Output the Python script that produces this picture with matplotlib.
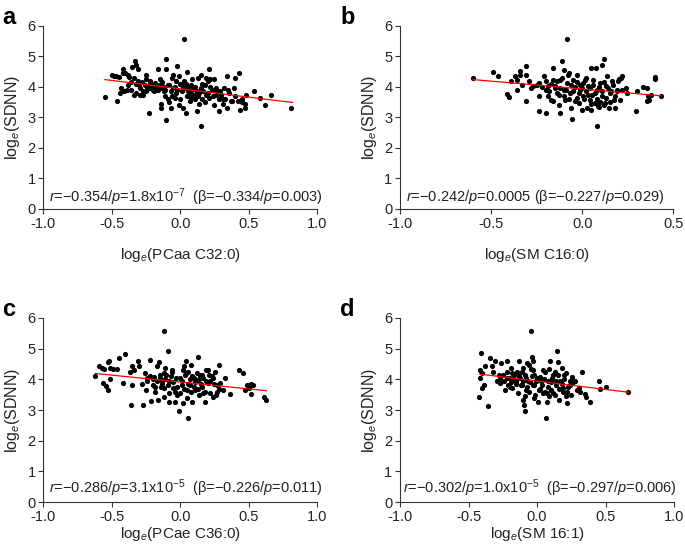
import matplotlib
matplotlib.use("Agg")
import matplotlib.pyplot as plt

plt.rcParams["font.family"] = ["Liberation Sans", "DejaVu Sans"]
plt.rcParams["mathtext.fontset"] = "custom"
plt.rcParams["mathtext.rm"] = "Liberation Sans"
plt.rcParams["mathtext.it"] = "Liberation Sans:italic"
plt.rcParams["axes.unicode_minus"] = False

# panel a: loge(PCaa C32:0) vs loge(SDNN)
a_pts = [
    (-0.55, 3.67), (-0.46, 3.53), (-0.50, 4.38), (-0.48, 4.37), (-0.42, 4.58), (-0.42, 4.45),
    (-0.40, 4.45), (-0.38, 4.38), (-0.37, 4.32), (-0.44, 3.80), (-0.41, 3.88), (-0.39, 3.90),
    (-0.35, 4.65), (-0.33, 4.85), (-0.32, 4.72), (-0.31, 4.58), (-0.34, 4.30), (-0.31, 4.20),
    (-0.32, 4.10), (-0.30, 4.05), (-0.36, 3.90), (-0.34, 3.75), (-0.32, 3.80), (-0.29, 3.75),
    (-0.27, 3.72), (-0.25, 4.40), (-0.25, 4.25), (-0.25, 3.85), (-0.23, 3.15), (-0.22, 4.10),
    (-0.21, 3.95), (-0.20, 4.05), (-0.19, 3.85), (-0.18, 4.12), (-0.17, 3.95), (-0.16, 4.60),
    (-0.15, 4.25), (-0.15, 4.00), (-0.14, 3.45), (-0.14, 3.30), (-0.13, 4.15), (-0.12, 4.00),
    (-0.12, 3.85), (-0.11, 3.70), (-0.10, 4.90), (-0.10, 4.60), (-0.10, 2.93), (-0.09, 3.60),
    (-0.08, 4.05), (-0.08, 3.50), (-0.07, 3.30), (-0.06, 4.30), (-0.05, 4.40), (-0.05, 3.95),
    (-0.04, 3.65), (-0.03, 4.20), (-0.03, 3.80), (-0.02, 4.70), (-0.01, 4.35), (-0.01, 3.40),
    (0.00, 3.60), (0.01, 4.05), (0.01, 3.85), (0.02, 3.30), (0.03, 5.57), (0.03, 4.20),
    (0.03, 3.95), (0.04, 4.10), (0.04, 3.15), (0.05, 3.70), (0.05, 4.50), (0.06, 4.00),
    (0.07, 3.80), (0.07, 3.55), (0.08, 4.05), (0.09, 3.90), (0.09, 4.25), (0.10, 3.75),
    (0.11, 3.60), (0.11, 4.00), (0.12, 3.85), (0.12, 3.20), (0.13, 4.30), (0.13, 3.70),
    (0.14, 3.45), (0.15, 2.73), (0.15, 4.40), (0.15, 3.95), (0.16, 3.60), (0.17, 3.85),
    (0.18, 4.05), (0.18, 3.50), (0.19, 4.30), (0.20, 3.80), (0.20, 4.20), (0.21, 4.58),
    (0.21, 3.65), (0.22, 4.00), (0.23, 3.90), (0.24, 3.70), (0.25, 4.25), (0.25, 3.40),
    (0.26, 3.95), (0.27, 3.85), (0.28, 3.20), (0.28, 3.60), (0.30, 3.75), (0.31, 3.45),
    (0.32, 3.95), (0.33, 3.60), (0.34, 4.35), (0.34, 3.30), (0.36, 3.80), (0.38, 3.55),
    (0.39, 3.95), (0.40, 3.70), (0.40, 4.30), (0.42, 3.55), (0.43, 4.45), (0.44, 3.25),
    (0.45, 3.50), (0.47, 3.30), (0.48, 3.75), (0.54, 3.85), (0.58, 3.65), (0.62, 3.42),
    (0.66, 3.72), (0.81, 3.30), (-0.28, 4.15), (-0.26, 4.05), (-0.24, 4.00), (-0.23, 3.95),
    (-0.22, 4.20), (-0.20, 3.90), (-0.18, 4.00), (-0.17, 4.05), (-0.16, 3.90), (-0.14, 4.10),
    (-0.13, 3.95), (-0.11, 3.90), (-0.09, 4.05), (-0.07, 3.85), (-0.06, 3.70), (-0.04, 4.00),
    (-0.02, 3.90), (0.00, 4.10), (0.02, 4.00), (0.06, 3.85), (0.08, 3.65), (0.10, 3.95),
    (0.14, 3.80), (0.16, 4.10), (0.19, 3.75), (0.22, 4.25), (0.24, 3.90), (0.26, 3.75),
    (0.29, 3.85), (0.31, 3.60), (-0.45, 4.32), (-0.47, 4.35), (-0.43, 3.95), (-0.38, 4.05),
    (-0.36, 4.15), (-0.29, 3.95), (-0.27, 3.85), (0.35, 3.90), (0.37, 3.55), (0.47, 3.45),
    (0.45, 3.60),
]

# panel b: loge(SM C16:0)
b_pts = [
    (-0.60, 4.28), (-0.49, 4.48), (-0.46, 4.35), (-0.415, 3.78), (-0.39, 4.18), (-0.37, 4.35),
    (-0.36, 4.24), (-0.36, 3.91), (-0.34, 4.51), (-0.34, 4.40), (-0.40, 3.67), (-0.31, 4.70),
    (-0.31, 4.40), (-0.31, 3.53), (-0.33, 4.07), (-0.29, 4.18), (-0.27, 4.02), (-0.24, 4.13),
    (-0.24, 3.20), (-0.24, 3.69), (-0.21, 4.35), (-0.20, 3.14), (-0.20, 3.91), (-0.19, 4.02),
    (-0.17, 3.58), (-0.16, 4.62), (-0.16, 4.24), (-0.15, 4.02), (-0.14, 3.80), (-0.13, 3.42),
    (-0.12, 3.14), (-0.12, 4.24), (-0.11, 4.84), (-0.10, 3.91), (-0.10, 4.57), (-0.095, 3.58),
    (-0.086, 5.57), (-0.086, 4.13), (-0.075, 4.46), (-0.068, 3.80), (-0.057, 2.95), (-0.049, 4.24),
    (-0.04, 4.00), (-0.03, 3.64), (-0.027, 4.40), (-0.016, 3.47), (-0.013, 3.91), (-0.004, 3.25),
    (0.002, 4.13), (0.005, 3.69), (0.015, 4.24), (0.02, 3.86), (0.024, 3.31), (0.033, 4.02),
    (0.042, 3.58), (0.046, 4.62), (0.051, 3.75), (0.06, 4.24), (0.07, 3.47), (0.075, 4.62),
    (0.08, 2.73), (0.082, 3.91), (0.088, 3.36), (0.097, 4.13), (0.106, 4.73), (0.11, 3.69),
    (0.12, 4.90), (0.124, 3.47), (0.13, 4.02), (0.137, 4.35), (0.148, 3.31), (0.155, 3.80),
    (0.166, 4.18), (0.173, 3.58), (0.18, 3.31), (0.19, 3.91), (0.197, 4.18), (0.206, 3.58),
    (0.216, 4.35), (0.24, 3.96), (0.247, 3.80), (0.294, 3.20), (0.30, 3.86), (0.335, 4.00),
    (0.353, 3.96), (0.362, 3.69), (0.357, 3.53), (0.367, 3.58), (0.398, 4.26), (0.402, 4.32),
    (0.43, 3.69), (0.377, 3.75), (-0.18, 3.85), (-0.17, 4.10), (-0.15, 3.95), (-0.14, 4.20),
    (-0.13, 3.75), (-0.12, 3.95), (-0.11, 4.30), (-0.10, 3.70), (-0.09, 3.90), (-0.08, 4.40),
    (-0.07, 3.60), (-0.06, 4.05), (-0.05, 3.85), (-0.04, 3.55), (-0.03, 4.15), (-0.02, 3.80),
    (-0.01, 4.05), (0.00, 3.95), (0.01, 3.60), (0.02, 4.30), (0.03, 3.75), (0.04, 3.95),
    (0.05, 3.45), (0.06, 4.05), (0.07, 3.80), (0.08, 3.60), (0.09, 4.00), (0.10, 3.50),
    (0.11, 3.85), (0.12, 4.15), (0.13, 3.65), (0.14, 3.95), (0.15, 3.50), (0.16, 3.85),
    (0.17, 4.05), (0.18, 3.70), (0.19, 3.85), (0.20, 4.25), (0.21, 4.30), (0.22, 3.90),
    (-0.25, 4.05), (-0.28, 3.95), (-0.22, 4.00), (-0.20, 4.20), (-0.19, 3.70), (-0.16, 3.55),
    (-0.06, 3.30), (0.05, 3.25), (0.09, 3.35), (0.12, 3.40),
]

# panel c: loge(PCae C36:0)
c_pts = [
    (-0.62, 4.11), (-0.59, 4.42), (-0.57, 4.36), (-0.555, 4.32), (-0.56, 3.87), (-0.54, 3.78),
    (-0.53, 3.65), (-0.53, 4.58), (-0.52, 4.60), (-0.51, 4.36), (-0.51, 4.01), (-0.49, 4.34),
    (-0.46, 4.34), (-0.45, 4.71), (-0.42, 3.89), (-0.40, 4.84), (-0.365, 4.25), (-0.36, 3.16),
    (-0.35, 4.44), (-0.35, 3.82), (-0.34, 4.31), (-0.31, 4.60), (-0.30, 4.42), (-0.27, 3.16),
    (-0.26, 4.22), (-0.25, 3.65), (-0.24, 4.03), (-0.22, 4.12), (-0.22, 4.63), (-0.21, 3.29),
    (-0.195, 3.82), (-0.19, 4.09), (-0.18, 3.60), (-0.17, 4.42), (-0.16, 3.33), (-0.155, 4.56),
    (-0.15, 4.14), (-0.135, 3.93), (-0.12, 5.56), (-0.12, 3.44), (-0.12, 3.71), (-0.11, 4.36),
    (-0.10, 4.14), (-0.09, 4.91), (-0.085, 3.27), (-0.08, 3.93), (-0.06, 4.25), (-0.05, 3.71),
    (-0.04, 3.27), (-0.025, 3.49), (-0.01, 2.97), (0.00, 4.03), (0.012, 3.82), (0.02, 3.22),
    (0.025, 4.42), (0.035, 4.14), (0.04, 4.60), (0.05, 3.65), (0.055, 2.75), (0.06, 4.25),
    (0.07, 3.82), (0.08, 4.47), (0.09, 3.27), (0.10, 4.03), (0.11, 3.65), (0.12, 3.93),
    (0.13, 4.74), (0.14, 3.49), (0.146, 4.14), (0.16, 3.76), (0.17, 4.03), (0.18, 3.25),
    (0.19, 4.31), (0.20, 3.87), (0.21, 4.14), (0.22, 3.54), (0.24, 3.44), (0.255, 4.25),
    (0.27, 3.60), (0.27, 3.80), (0.287, 4.47), (0.29, 3.87), (0.31, 3.65), (0.33, 4.03),
    (0.365, 3.51), (0.43, 4.29), (0.46, 4.22), (0.475, 3.65), (0.487, 3.82), (0.505, 3.76),
    (0.515, 3.84), (0.52, 3.52), (0.535, 3.80), (0.61, 3.44), (0.63, 3.33), (0.50, 3.71),
    (-0.20, 4.00), (-0.17, 3.95), (-0.15, 4.05), (-0.13, 3.85), (-0.11, 4.00), (-0.09, 3.80),
    (-0.07, 4.10), (-0.05, 3.90), (-0.03, 4.05), (-0.02, 3.75), (0.01, 3.95), (0.03, 3.70),
    (0.04, 4.20), (0.06, 3.85), (0.08, 3.60), (0.09, 4.10), (0.11, 3.90), (0.12, 4.20),
    (0.13, 3.70), (0.15, 3.85), (0.16, 4.15), (0.18, 3.60), (0.20, 4.30), (0.22, 3.95),
    (0.23, 4.10), (0.25, 3.85), (0.26, 3.50), (0.28, 3.70), (-0.12, 4.20), (-0.14, 3.75),
    (-0.08, 3.55), (-0.06, 4.30), (0.00, 3.55), (0.02, 4.30), (0.05, 3.40), (0.07, 4.00),
    (0.10, 3.75), (0.14, 4.00), (0.17, 3.55), (0.19, 3.95), (-0.28, 3.85), (-0.24, 3.95),
    (-0.18, 3.75), (-0.04, 3.60), (0.24, 4.05),
]

# panel d: loge(SM 16:1)
d_pts = [
    (-0.42, 3.44), (-0.415, 4.03), (-0.415, 4.31), (-0.41, 4.85), (-0.405, 4.20), (-0.40, 3.71),
    (-0.39, 3.82), (-0.38, 4.42), (-0.36, 3.14), (-0.34, 4.71), (-0.33, 4.42), (-0.32, 4.25),
    (-0.31, 4.60), (-0.295, 3.93), (-0.28, 4.14), (-0.27, 3.87), (-0.26, 4.53), (-0.25, 4.14),
    (-0.235, 3.65), (-0.22, 4.60), (-0.22, 4.25), (-0.21, 3.82), (-0.20, 4.03), (-0.19, 4.36),
    (-0.18, 3.71), (-0.17, 4.14), (-0.155, 3.93), (-0.145, 4.25), (-0.14, 3.54), (-0.13, 4.60),
    (-0.125, 4.03), (-0.11, 3.82), (-0.105, 4.36), (-0.10, 3.33), (-0.095, 3.16), (-0.09, 2.97),
    (-0.09, 4.14), (-0.08, 3.65), (-0.07, 4.53), (-0.065, 3.93), (-0.057, 3.60), (-0.047, 4.33),
    (-0.043, 5.56), (-0.04, 4.74), (-0.033, 3.82), (-0.028, 4.60), (-0.02, 4.14), (-0.016, 3.49),
    (-0.004, 3.93), (0.01, 3.27), (0.016, 3.65), (0.02, 4.09), (0.033, 3.82), (0.045, 3.54),
    (0.057, 4.25), (0.065, 2.75), (0.07, 3.27), (0.08, 3.93), (0.09, 4.33), (0.094, 4.60),
    (0.105, 3.65), (0.118, 4.14), (0.13, 3.49), (0.137, 3.82), (0.147, 4.91), (0.155, 4.14),
    (0.155, 4.58), (0.16, 3.33), (0.17, 3.93), (0.18, 4.36), (0.186, 3.71), (0.195, 4.14),
    (0.21, 3.47), (0.22, 3.22), (0.227, 3.76), (0.24, 3.93), (0.247, 3.49), (0.256, 4.09),
    (0.293, 3.65), (0.307, 3.71), (0.317, 3.60), (0.325, 4.25), (0.35, 3.51), (0.36, 3.44),
    (0.385, 3.27), (0.45, 3.95), (0.46, 3.69), (0.50, 3.75), (0.667, 3.58),
    (-0.24, 3.95), (-0.22, 4.05), (-0.19, 3.90), (-0.17, 4.00), (-0.15, 3.85), (-0.13, 4.10),
    (-0.12, 3.80), (-0.10, 3.95), (-0.08, 4.05), (-0.07, 3.75), (-0.05, 3.90), (-0.04, 4.10),
    (-0.02, 3.80), (-0.01, 3.95), (0.00, 4.05), (0.02, 3.70), (0.03, 3.95), (0.05, 4.00),
    (0.06, 3.60), (0.08, 3.75), (0.10, 3.90), (0.11, 4.05), (0.12, 3.55), (0.14, 3.95),
    (0.16, 3.70), (0.18, 3.85), (0.20, 4.00), (0.22, 3.60), (0.24, 3.80), (0.26, 3.90),
    (0.28, 3.95), (-0.27, 4.00), (-0.18, 4.20), (-0.11, 4.25), (-0.03, 4.30), (0.04, 4.30),
    (0.13, 4.25), (0.21, 4.20), (-0.09, 3.45), (-0.02, 3.40), (0.09, 3.45), (0.19, 3.60),
    (-0.20, 3.75), (-0.06, 4.45), (0.07, 3.55),
]

# regression lines (endpoints)
a_fit = ([-0.55, 0.82], [4.24, 3.49])
b_fit = ([-0.60, 0.43], [4.24, 3.71])
c_fit = ([-0.62, 0.63], [4.19, 3.63])
d_fit = ([-0.42, 0.667], [4.17, 3.58])

letters = ["a", "b", "c", "d"]
xlabels = [r"log$_{\it{e}}$(PCaa C32:0)", r"log$_{\it{e}}$(SM C16:0)",
           r"log$_{\it{e}}$(PCae C36:0)", r"log$_{\it{e}}$(SM 16:1)"]
ylabel = r"log$_{\it{e}}$(SDNN)"
stats = [
    r"$\it{r}$=−0.354/$\it{p}$=1.8x10$^{-7}$  (β=−0.334/$\it{p}$=0.003)",
    r"$\it{r}$=−0.242/$\it{p}$=0.0005 (β=−0.227/$\it{p}$=0.029)",
    r"$\it{r}$=−0.286/$\it{p}$=3.1x10$^{-5}$  (β=−0.226/$\it{p}$=0.011)",
    r"$\it{r}$=−0.302/$\it{p}$=1.0x10$^{-5}$  (β=−0.297/$\it{p}$=0.006)",
]
xlims = [(-1.0, 1.0), (-1.0, 0.5), (-1.0, 1.0), (-1.0, 1.0)]
xticks = [[-1.0, -0.5, 0.0, 0.5, 1.0], [-1.0, -0.5, 0.0, 0.5],
          [-1.0, -0.5, 0.0, 0.5, 1.0], [-1.0, -0.5, 0.0, 0.5, 1.0]]
stat_pos = [(-0.955, 0.40), (-0.965, 0.40), (-0.96, 0.47), (-0.975, 0.45)]

fig = plt.figure(figsize=(6.85, 5.5), dpi=100)
rects = [
    (0.063, 0.620, 0.400, 0.333),
    (0.584, 0.620, 0.399, 0.333),
    (0.063, 0.087, 0.400, 0.335),
    (0.584, 0.087, 0.400, 0.335),
]
letter_pos = [(0.003, 0.99), (0.497, 0.99), (0.003, 0.458), (0.497, 0.458)]
xlabel_pad = [11, 11, 1, 1]
all_pts = [a_pts, b_pts, c_pts, d_pts]
fits = [a_fit, b_fit, c_fit, d_fit]

for i in range(4):
    ax = fig.add_axes(rects[i])
    xs = [p[0] for p in all_pts[i]]
    ys = [p[1] for p in all_pts[i]]
    ax.scatter(xs, ys, s=14, color="black", linewidths=0, zorder=2)
    ax.plot(fits[i][0], fits[i][1], color="red", lw=0.9, zorder=3)
    ax.set_xlim(*xlims[i])
    ax.set_ylim(0, 6)
    ax.set_xticks(xticks[i])
    ax.set_xticklabels([f"{t:.1f}" for t in xticks[i]])
    ax.set_yticks(range(7))
    for s in ["top", "right"]:
        ax.spines[s].set_visible(False)
    for s in ["left", "bottom"]:
        ax.spines[s].set_linewidth(0.8)
        ax.spines[s].set_color("#333333")
    ax.tick_params(direction="out", length=3.5, width=0.8, pad=2, labelsize=10.5,
                   colors="#333333", labelcolor="#222222")
    ax.set_xlabel(xlabels[i], fontsize=11, labelpad=xlabel_pad[i], color="#222222")
    ax.set_ylabel(ylabel, fontsize=11.5, labelpad=4, color="#222222")
    ax.text(stat_pos[i][0], stat_pos[i][1], stats[i], fontsize=10.5,
            va="center", ha="left", color="#222222")
    fig.text(letter_pos[i][0], letter_pos[i][1], letters[i], fontsize=17,
             fontweight="bold", va="top", ha="left")

fig.savefig("out.png", dpi=100)
